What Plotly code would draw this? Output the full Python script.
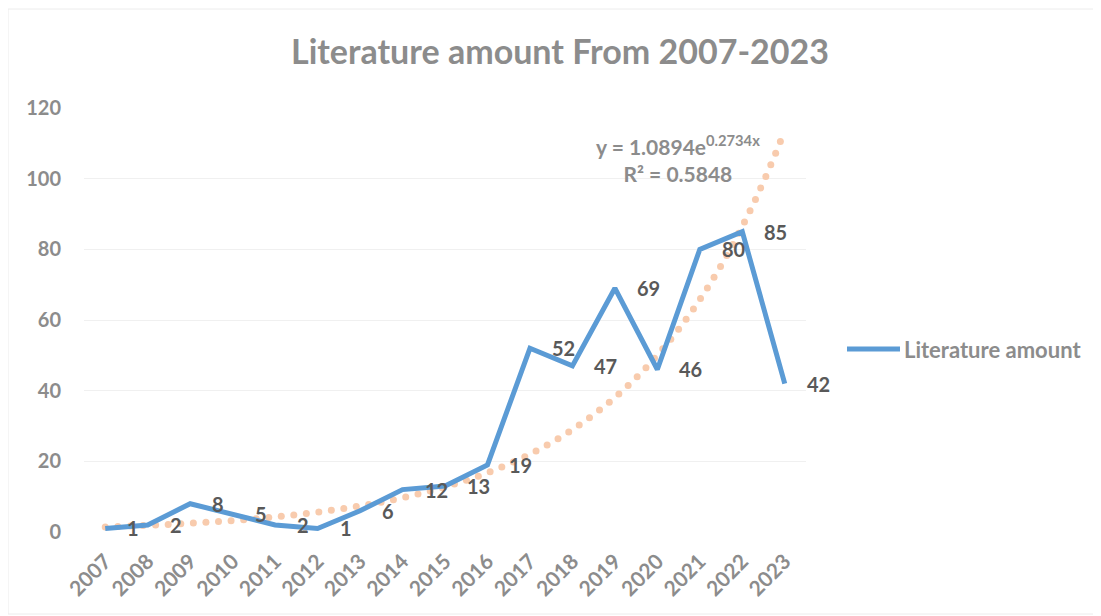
import numpy as np
import plotly.graph_objects as go

years = list(range(2007, 2024))
amounts = [1, 2, 8, 5, 2, 1, 6, 12, 13, 19, 52, 47, 69, 46, 80, 85, 42]
y_ticks = [0, 20, 40, 60, 80, 100, 120]
trend_a = 1.0894
trend_b = 0.2734
trend_r2 = 0.5848

title_text = "Literature amount From 2007-2023"
series_name = "Literature amount"

FONT = "Lato"
GRAY = "#8c8c8c"
LABEL = "#595959"
BLUE = "#5b9bd5"
PEACH = "#f8cbad"

# the page body adds an 8px offset, so the figure is sized to fit the window
W, H = 1093, 608
ML, MR, MT, MB = 76, 295, 100, 84
PW, PH = W - ML - MR, H - MT - MB
YMAX = 120

# trendline from the displayed equation (x = 1..17 index), drawn as round dots
# at an even on-screen spacing
xr = (years[0] - 0.5, years[-1] + 0.5)
px_per_x = PW / (xr[1] - xr[0])
px_per_y = PH / YMAX
tx = np.linspace(1, len(years), 4000)
ty = trend_a * np.exp(trend_b * tx)
tyears = years[0] + tx - 1
seg = np.hypot(np.diff(tyears) * px_per_x, np.diff(ty) * px_per_y)
arc = np.concatenate([[0], np.cumsum(seg)])
targets = np.arange(0, arc[-1], 12.6)
dot_x = np.interp(targets, arc, tyears)
dot_y = np.interp(targets, arc, ty)

fig = go.Figure()
fig.add_trace(go.Scatter(
    x=dot_x, y=dot_y, mode="markers", showlegend=False, hoverinfo="skip",
    marker=dict(color=PEACH, size=7, line=dict(width=0)),
))
fig.add_trace(go.Scatter(
    x=years, y=amounts, mode="lines", name=series_name, showlegend=False,
    line=dict(color=BLUE, width=5),
))

for yr, v in zip(years, amounts):
    fig.add_annotation(
        x=yr, y=v, text=str(v), showarrow=False, xanchor="left", yanchor="middle",
        xshift=20, font=dict(family=FONT, size=20, color=LABEL, weight="bold"),
    )

fig.add_annotation(
    x=2020.48, y=105.6, xref="x", yref="y",
    text=f"y = {trend_a}e<sup>{trend_b}x</sup><br>R² = {trend_r2}",
    showarrow=False, align="center", xanchor="center", yanchor="middle",
    font=dict(family=FONT, size=21, color=GRAY, weight="bold"),
)

# legend entry (line sample + label), placed in the right margin
leg_y = (532 - 349) / PH
fig.add_shape(type="line", xref="paper", yref="paper",
              x0=(847 - 84) / PW, x1=(900 - 84) / PW, y0=leg_y, y1=leg_y,
              line=dict(color=BLUE, width=5))
fig.add_annotation(
    xref="paper", yref="paper", x=(902 - 84) / PW, y=leg_y, text=series_name,
    showarrow=False, xanchor="left", yanchor="middle",
    font=dict(family=FONT, size=22, color=GRAY, weight="bold"),
)

# faint chart-area border
fig.add_shape(type="rect", xref="paper", yref="paper",
              x0=(8 - 84) / PW, x1=(1100 - 84) / PW,
              y0=(532 - 614) / PH, y1=(532 - 9) / PH,
              line=dict(color="#ececec", width=1))

fig.update_layout(
    width=W, height=H,
    paper_bgcolor="white", plot_bgcolor="white",
    margin=dict(l=ML, r=MR, t=MT, b=MB, autoexpand=False),
    showlegend=False,
    title=dict(text=title_text, x=552 / W, xanchor="center", y=1 - 44 / H, yanchor="middle",
               font=dict(family=FONT, size=34, color=GRAY, weight="bold")),
    xaxis=dict(
        range=list(xr), tickmode="array", tickvals=years, automargin=False,
        ticktext=[str(y) for y in years], tickangle=-45, showgrid=False, zeroline=False,
        showline=False, ticks="", ticklabelstandoff=12,
        tickfont=dict(family=FONT, size=21, color=GRAY, weight="bold"),
    ),
    yaxis=dict(
        range=[0, YMAX], tickmode="array", tickvals=y_ticks, showgrid=True, automargin=False,
        gridcolor="#f0f0f0", gridwidth=1, zeroline=False, showline=False, ticks="",
        ticklabelstandoff=22,
        tickfont=dict(family=FONT, size=20, color=GRAY, weight="bold"),
    ),
)

fig.write_html("out.html")
